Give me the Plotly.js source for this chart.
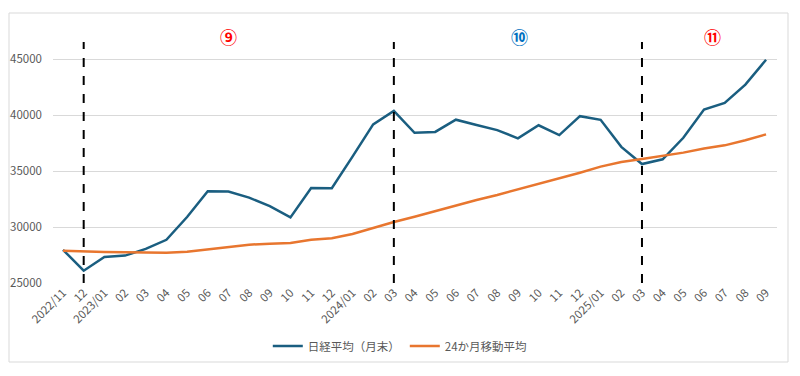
<!DOCTYPE html>
<html>
<head>
<meta charset="utf-8">
<script src="https://cdn.plot.ly/plotly-3.0.1.min.js"></script>
<style>html,body{margin:0;padding:0;background:#fff;}#chart{width:800px;height:376px;}</style>
</head>
<body>
<div id="chart"></div>
<script>
const months = ["2022/11","12","2023/01","02","03","04","05","06","07","08","09","10","11","12",
  "2024/01","02","03","04","05","06","07","08","09","10","11","12",
  "2025/01","02","03","04","05","06","07","08","09"];
const nikkei = [27968,26095,27327,27446,28041,28856,30888,33189,33172,32619,31858,30859,33487,33464,
  36287,39166,40369,38406,38488,39583,39102,38648,37920,39081,38208,39895,
  39572,37156,35618,36045,37965,40487,41070,42718,44933];
const ma24 = [27880,27800,27770,27750,27720,27700,27780,28000,28240,28420,28510,28580,28870,28990,
  29370,29910,30440,30920,31430,31940,32410,32860,33360,33870,34310,34850,
  35390,35800,36070,36340,36640,37000,37290,37740,38270];
const seriesNames = ["日経平均（月末）","24か月移動平均"];
const phaseMarks = [1, 16, 28];            // category indices of dashed lines
const phaseLabels = ["⑨","⑩","⑪"];
const phaseLabelPos = [8.0, 22.1, 31.4];  // category positions of labels
const phaseColors = ["#ff0000","#0070c0","#ff0000"];

const idx = months.map((_, i) => i);
const font = "'Noto Sans CJK JP', 'Noto Sans', sans-serif";

const traces = [
  {x: idx, y: nikkei, type: "scatter", mode: "lines", name: seriesNames[0],
   line: {color: "#1a5e80", width: 2.5}},
  {x: idx, y: ma24, type: "scatter", mode: "lines", name: seriesNames[1],
   line: {color: "#e8762f", width: 2.5}}
];

const shapes = [];
phaseMarks.forEach(m => {
  shapes.push({type: "line", xref: "x", yref: "y", x0: m, x1: m, y0: 25000, y1: 46520,
    line: {color: "#000", width: 2, dash: "dash"}, layer: "above"});
});
shapes.push({type: "rect", xref: "paper", yref: "paper",
  x0: (9-53)/724, x1: (788-53)/724, y0: (283-362)/253, y1: (283-13)/253,
  line: {color: "#d9d9d9", width: 1}, fillcolor: "rgba(0,0,0,0)", layer: "below"});

const annotations = phaseLabels.map((t, i) => ({
  x: phaseLabelPos[i], xref: "x", y: (283-37)/253, yref: "paper",
  text: "<b>" + t + "</b>", showarrow: false,
  font: {family: font, size: 17, color: phaseColors[i], weight: 700},
  xanchor: "center", yanchor: "middle"
}));

const layout = {
  width: 800, height: 376,
  margin: {l: 53, r: 23, t: 30, b: 93},
  paper_bgcolor: "#fff", plot_bgcolor: "#fff",
  font: {family: font, size: 11, color: "#595959"},
  showlegend: true,
  legend: {orientation: "h", x: 0.479, xanchor: "center", y: (283-346)/253, yanchor: "middle",
    font: {family: font, size: 11.5, color: "#595959"}, itemwidth: 30},
  xaxis: {
    range: [-0.484, 34.53], tickmode: "array", tickvals: idx, ticktext: months,
    tickangle: -45, showgrid: false, zeroline: false, showline: false, ticks: "",
    tickfont: {family: font, size: 11.5, color: "#595959"}
  },
  yaxis: {
    range: [25000, 47589], tickvals: [25000,30000,35000,40000,45000], tickformat: "d",
    showgrid: true, gridcolor: "#d9d9d9", gridwidth: 1, zeroline: false, showline: false,
    ticks: "", ticklabelstandoff: 10, tickfont: {family: font, size: 11.5, color: "#595959"}
  },
  shapes: shapes,
  annotations: annotations
};

Plotly.newPlot("chart", traces, layout, {displayModeBar: false, staticPlot: true});
</script>
</body>
</html>
